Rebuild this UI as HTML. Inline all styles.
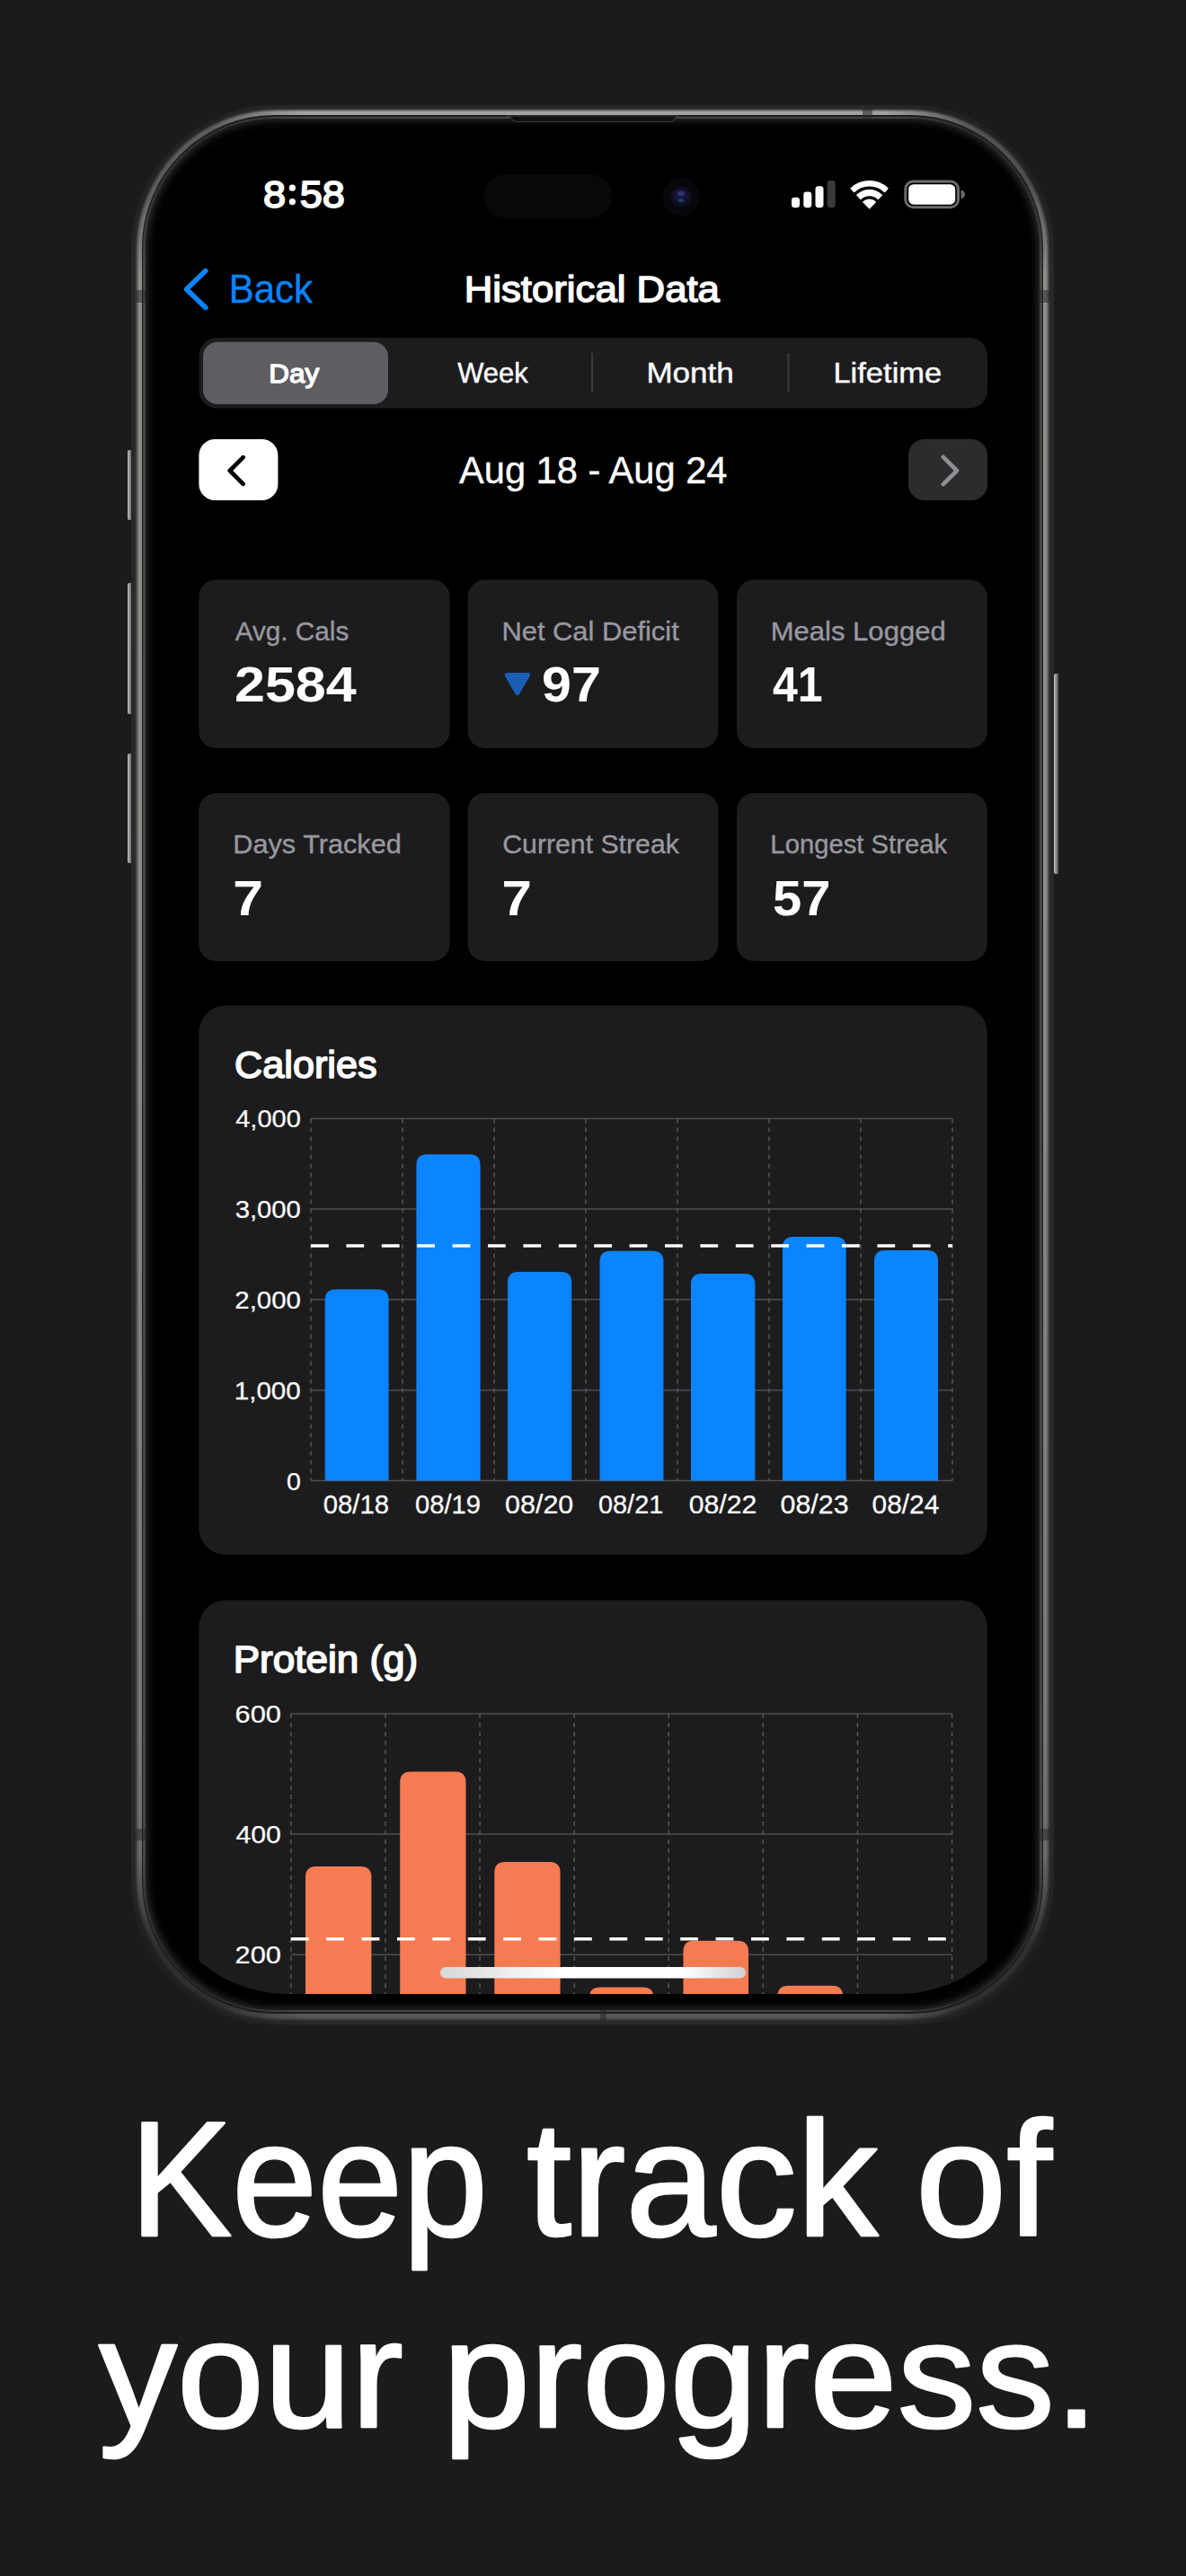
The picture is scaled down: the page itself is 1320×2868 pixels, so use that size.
<!DOCTYPE html>
<html><head><meta charset="utf-8">
<style>
html,body{margin:0;padding:0;width:1320px;height:2868px;overflow:hidden;background:#1b1b1b;}
.abs{position:absolute;}
.btn{position:absolute;width:5.5px;background:linear-gradient(90deg,#bdbdb9 0%,#9a9a96 40%,#4a4a4a 100%);border-radius:2px 0 0 2px;}
svg text{font-family:"Liberation Sans",sans-serif;}
</style></head><body>
<div class="btn" style="left:141.8px;top:501px;height:78px;"></div>
<div class="btn" style="left:141.8px;top:649px;height:146px;"></div>
<div class="btn" style="left:141.8px;top:839px;height:122px;"></div>
<div class="btn" style="left:1172.8px;top:750px;height:223px;"></div>
<div class="abs" style="left:146.2px;top:116.5px;width:1026.8px;height:2137px;border-radius:160px;background:#272929;overflow:hidden;">
<div class="abs" style="left:5.00px;top:5.00px;width:1016.80px;height:2127.00px;border-radius:155.00px;background:#3f403f;filter:blur(0.8px);"></div>
<div class="abs" style="left:6.60px;top:6.60px;width:1013.60px;height:2123.80px;border-radius:153.40px;background:linear-gradient(180deg,#a4a4a0 0%,#8e8e8b 8%,#8a8a88 45%,#78787a 85%,#5a5a5a 100%);filter:blur(1.1px);"></div>
<div class="abs" style="left:11.90px;top:11.90px;width:1003.00px;height:2113.20px;border-radius:148.10px;background:#1c1d1d;filter:blur(0.4px);"></div>
<div class="abs" style="left:13.20px;top:13.20px;width:1000.40px;height:2110.60px;border-radius:146.80px;background:#454545;filter:blur(0.4px);"></div>
<div class="abs" style="left:0.00px;top:0.00px;width:260px;height:260px;background:radial-gradient(circle at 0 0, rgba(27,27,27,0.5) 0px, rgba(27,27,27,0.5) 92px, rgba(27,27,27,0) 190px);"></div>
<div class="abs" style="left:766.80px;top:0.00px;width:260px;height:260px;background:radial-gradient(circle at 100% 0, rgba(27,27,27,0.58) 0px, rgba(27,27,27,0.58) 92px, rgba(27,27,27,0) 190px);"></div>
<div class="abs" style="left:0.00px;top:1877.00px;width:260px;height:260px;background:radial-gradient(circle at 0 100%, rgba(27,27,27,0.7) 0px, rgba(27,27,27,0.7) 92px, rgba(27,27,27,0) 190px);"></div>
<div class="abs" style="left:766.80px;top:1877.00px;width:260px;height:260px;background:radial-gradient(circle at 100% 100%, rgba(27,27,27,0.7) 0px, rgba(27,27,27,0.7) 92px, rgba(27,27,27,0) 190px);"></div>
<div class="abs" style="left:0.00px;top:206.50px;width:17px;height:14px;background:rgba(40,40,40,0.55);filter:blur(0.6px);"></div>
<div class="abs" style="left:1009.80px;top:206.50px;width:17px;height:14px;background:rgba(40,40,40,0.55);filter:blur(0.6px);"></div>
<div class="abs" style="left:0.00px;top:1919.50px;width:17px;height:13px;background:rgba(40,40,40,0.55);filter:blur(0.6px);"></div>
<div class="abs" style="left:1009.80px;top:1919.50px;width:17px;height:13px;background:rgba(40,40,40,0.55);filter:blur(0.6px);"></div>
<div class="abs" style="left:813.80px;top:0.00px;width:11px;height:17px;background:rgba(40,40,40,0.55);filter:blur(0.6px);"></div>
<div class="abs" style="left:521.80px;top:2120.00px;width:7px;height:17px;background:rgba(40,40,40,0.55);filter:blur(0.6px);"></div>
<div class="abs" style="left:15.80px;top:15.80px;width:995.20px;height:2105.40px;border-radius:144.20px;background:#000;box-shadow:inset 0 0 10px 2px rgba(62,62,62,0.75);"></div>
</div>
<svg class="abs" style="left:0;top:0" width="1320" height="2868" viewBox="0 0 1320 2868">
<defs>
<clipPath id="scr"><rect x="170" y="135" width="980" height="2085" rx="150"/></clipPath>
<linearGradient id="hi" x1="0" x2="1" y1="0" y2="0">
<stop offset="0" stop-color="#d8d8d8"/><stop offset="0.4" stop-color="#ffffff"/><stop offset="0.8" stop-color="#ffffff"/><stop offset="1" stop-color="#d0d0d0"/>
</linearGradient>
</defs>
<circle cx="325.4" cy="209.2" r="3.6" fill="#fff"/><circle cx="325.4" cy="224.6" r="3.6" fill="#fff"/>
<path d="M564 130 L566.5 130 Q568.5 130 569.8 132.6 Q571.2 135.4 574 135.4 L746 135.4 Q748.8 135.4 750.2 132.6 Q751.5 130 753.5 130 L756 130 L756 129 L564 129 Z" fill="#0f0f0f" stroke="#404040" stroke-width="1"/>
<rect x="538" y="194" width="143.00" height="49.00" rx="24.5" fill="#080808" />
<circle cx="758" cy="219" r="21" fill="#07070b"/>
<circle cx="758" cy="219" r="11.5" fill="#0e0e22"/>
<circle cx="758" cy="219" r="8" fill="#15153a"/>
<ellipse cx="758" cy="215.5" rx="4" ry="3" fill="#3a3a78" opacity="0.8"/>
<ellipse cx="758" cy="223" rx="3" ry="2" fill="#1f5a4a" opacity="0.7"/>
<rect x="881" y="219.7" width="9.00" height="11.50" rx="3.4" fill="#ffffff" />
<rect x="894.3" y="213.6" width="9.00" height="17.60" rx="3.4" fill="#ffffff" />
<rect x="907.5" y="207.3" width="9.00" height="23.90" rx="3.4" fill="#ffffff" />
<rect x="920.7" y="201" width="9.00" height="30.20" rx="3.4" fill="#3a3a3c" />
<path d="M961.07 224.84 A9.4 9.4 0 0 1 974.13 224.84 L967.60 231.60 Z" fill="#fff" stroke="#fff" stroke-width="1.6" stroke-linejoin="round"/>
<path d="M953.97 217.24 A19.8 19.8 0 0 1 981.23 217.24 L977.37 221.30 A14.2 14.2 0 0 0 957.83 221.30 Z" fill="#fff" stroke="#fff" stroke-width="1.6" stroke-linejoin="round"/>
<path d="M947.28 209.81 A29.8 29.8 0 0 1 987.92 209.81 L984.58 213.39 A24.9 24.9 0 0 0 950.62 213.39 Z" fill="#fff" stroke="#fff" stroke-width="1.6" stroke-linejoin="round"/>
<rect x="1007.8" y="202.1" width="58.70" height="28.70" rx="8.5" fill="none" stroke="#6b6b6b" stroke-width="3"/>
<rect x="1011.2" y="205.2" width="52.00" height="22.50" rx="5.5" fill="#ffffff" />
<path d="M1069.5 211.5 Q1074 212.5 1074 216.3 Q1074 220.2 1069.5 221.2 Z" fill="#6b6b6b"/>
<path d="M228.8 301.6 L207.6 322 L228.8 342.4" fill="none" stroke="#0a84ff" stroke-width="5.6" stroke-linecap="round" stroke-linejoin="round"/>
<rect x="221.6" y="376" width="877.40" height="78.60" rx="20" fill="#1c1c1f" />
<rect x="226" y="380.7" width="206.00" height="69.30" rx="16" fill="#5d5d62" />
<rect x="658" y="393" width="2" height="44" fill="#3a3a3d"/>
<rect x="876.5" y="393" width="2" height="44" fill="#3a3a3d"/>
<rect x="221.4" y="488.9" width="88.00" height="68.10" rx="18" fill="#ffffff" />
<path d="M270.6 509.2 L255.8 524 L270.6 538.8" fill="none" stroke="#000" stroke-width="4.7" stroke-linecap="round" stroke-linejoin="round"/>
<rect x="1011" y="489" width="88.00" height="68.00" rx="18" fill="#2c2c2e" />
<path d="M1049.8 508.8 L1065 524 L1049.8 539.2" fill="none" stroke="#8e8e93" stroke-width="4.6" stroke-linecap="round" stroke-linejoin="round"/>
<rect x="221.3" y="645.6" width="279.30" height="187.40" rx="19" fill="#1c1c1e" />
<rect x="520.6" y="645.6" width="278.80" height="187.40" rx="19" fill="#1c1c1e" />
<rect x="820" y="645.6" width="278.70" height="187.40" rx="19" fill="#1c1c1e" />
<rect x="221.3" y="883" width="279.30" height="187.00" rx="19" fill="#1c1c1e" />
<rect x="520.6" y="883" width="278.80" height="187.00" rx="19" fill="#1c1c1e" />
<rect x="820" y="883" width="278.70" height="187.00" rx="19" fill="#1c1c1e" />
<path d="M564.2 751.6 L587.5 751.6 L575.85 771.6 Z" fill="#1b5fb4" stroke="#1b5fb4" stroke-width="5" stroke-linejoin="round"/>
<rect x="221.4" y="1119.5" width="877.30" height="611.50" rx="30" fill="#1c1c1e" />
<rect x="346" y="1244.65" width="714" height="1.5" fill="#4f4f52"/>
<rect x="346" y="1345.25" width="714" height="1.5" fill="#4f4f52"/>
<rect x="346" y="1446.05" width="714" height="1.5" fill="#4f4f52"/>
<rect x="346" y="1547.05" width="714" height="1.5" fill="#4f4f52"/>
<rect x="346" y="1647.75" width="714" height="1.5" fill="#4f4f52"/>
<line x1="346.00" y1="1245.4" x2="346.00" y2="1648.5" stroke="#5a5a5e" stroke-width="1.4" stroke-dasharray="5 5"/>
<line x1="448.00" y1="1245.4" x2="448.00" y2="1648.5" stroke="#5a5a5e" stroke-width="1.4" stroke-dasharray="5 5"/>
<line x1="550.00" y1="1245.4" x2="550.00" y2="1648.5" stroke="#5a5a5e" stroke-width="1.4" stroke-dasharray="5 5"/>
<line x1="652.00" y1="1245.4" x2="652.00" y2="1648.5" stroke="#5a5a5e" stroke-width="1.4" stroke-dasharray="5 5"/>
<line x1="754.00" y1="1245.4" x2="754.00" y2="1648.5" stroke="#5a5a5e" stroke-width="1.4" stroke-dasharray="5 5"/>
<line x1="856.00" y1="1245.4" x2="856.00" y2="1648.5" stroke="#5a5a5e" stroke-width="1.4" stroke-dasharray="5 5"/>
<line x1="958.00" y1="1245.4" x2="958.00" y2="1648.5" stroke="#5a5a5e" stroke-width="1.4" stroke-dasharray="5 5"/>
<line x1="1060.00" y1="1245.4" x2="1060.00" y2="1648.5" stroke="#5a5a5e" stroke-width="1.4" stroke-dasharray="5 5"/>
<path d="M361.70 1648.50 L361.70 1447.60 Q361.70 1435.60 373.70 1435.60 L420.60 1435.60 Q432.60 1435.60 432.60 1447.60 L432.60 1648.50 Z" fill="#0a84ff"/>
<path d="M463.40 1648.50 L463.40 1297.30 Q463.40 1285.30 475.40 1285.30 L522.60 1285.30 Q534.60 1285.30 534.60 1297.30 L534.60 1648.50 Z" fill="#0a84ff"/>
<path d="M565.00 1648.50 L565.00 1428.00 Q565.00 1416.00 577.00 1416.00 L624.20 1416.00 Q636.20 1416.00 636.20 1428.00 L636.20 1648.50 Z" fill="#0a84ff"/>
<path d="M667.50 1648.50 L667.50 1404.80 Q667.50 1392.80 679.50 1392.80 L726.40 1392.80 Q738.40 1392.80 738.40 1404.80 L738.40 1648.50 Z" fill="#0a84ff"/>
<path d="M769.00 1648.50 L769.00 1430.00 Q769.00 1418.00 781.00 1418.00 L828.40 1418.00 Q840.40 1418.00 840.40 1430.00 L840.40 1648.50 Z" fill="#0a84ff"/>
<path d="M871.00 1648.50 L871.00 1389.00 Q871.00 1377.00 883.00 1377.00 L929.70 1377.00 Q941.70 1377.00 941.70 1389.00 L941.70 1648.50 Z" fill="#0a84ff"/>
<path d="M973.00 1648.50 L973.00 1404.00 Q973.00 1392.00 985.00 1392.00 L1032.00 1392.00 Q1044.00 1392.00 1044.00 1404.00 L1044.00 1648.50 Z" fill="#0a84ff"/>
<line x1="346" y1="1387" x2="1060" y2="1387" stroke="#fff" stroke-width="3.4" stroke-dasharray="19.8 19.6"/>
<g clip-path="url(#scr)">
<rect x="221.4" y="1781.5" width="877.30" height="618.50" rx="30" fill="#1c1c1e" />
<rect x="323.8" y="1907.25" width="735.8" height="1.5" fill="#4f4f52"/>
<rect x="323.8" y="2041.25" width="735.8" height="1.5" fill="#4f4f52"/>
<rect x="323.8" y="2175.45" width="735.8" height="1.5" fill="#4f4f52"/>
<line x1="323.80" y1="1908" x2="323.80" y2="2300" stroke="#5a5a5e" stroke-width="1.4" stroke-dasharray="5 5"/>
<line x1="428.91" y1="1908" x2="428.91" y2="2300" stroke="#5a5a5e" stroke-width="1.4" stroke-dasharray="5 5"/>
<line x1="534.02" y1="1908" x2="534.02" y2="2300" stroke="#5a5a5e" stroke-width="1.4" stroke-dasharray="5 5"/>
<line x1="639.13" y1="1908" x2="639.13" y2="2300" stroke="#5a5a5e" stroke-width="1.4" stroke-dasharray="5 5"/>
<line x1="744.24" y1="1908" x2="744.24" y2="2300" stroke="#5a5a5e" stroke-width="1.4" stroke-dasharray="5 5"/>
<line x1="849.35" y1="1908" x2="849.35" y2="2300" stroke="#5a5a5e" stroke-width="1.4" stroke-dasharray="5 5"/>
<line x1="954.46" y1="1908" x2="954.46" y2="2300" stroke="#5a5a5e" stroke-width="1.4" stroke-dasharray="5 5"/>
<line x1="1059.57" y1="1908" x2="1059.57" y2="2300" stroke="#5a5a5e" stroke-width="1.4" stroke-dasharray="5 5"/>
<path d="M340.00 2300.00 L340.00 2090.00 Q340.00 2078.00 352.00 2078.00 L401.40 2078.00 Q413.40 2078.00 413.40 2090.00 L413.40 2300.00 Z" fill="#f77b52"/>
<path d="M445.20 2300.00 L445.20 1984.50 Q445.20 1972.50 457.20 1972.50 L506.50 1972.50 Q518.50 1972.50 518.50 1984.50 L518.50 2300.00 Z" fill="#f77b52"/>
<path d="M550.30 2300.00 L550.30 2085.00 Q550.30 2073.00 562.30 2073.00 L611.60 2073.00 Q623.60 2073.00 623.60 2085.00 L623.60 2300.00 Z" fill="#f77b52"/>
<path d="M655.80 2300.00 L655.80 2224.60 Q655.80 2212.60 667.80 2212.60 L715.60 2212.60 Q727.60 2212.60 727.60 2224.60 L727.60 2300.00 Z" fill="#f77b52"/>
<path d="M760.50 2300.00 L760.50 2172.70 Q760.50 2160.70 772.50 2160.70 L821.00 2160.70 Q833.00 2160.70 833.00 2172.70 L833.00 2300.00 Z" fill="#f77b52"/>
<path d="M865.30 2300.00 L865.30 2222.70 Q865.30 2210.70 877.30 2210.70 L926.20 2210.70 Q938.20 2210.70 938.20 2222.70 L938.20 2300.00 Z" fill="#f77b52"/>
<line x1="323.8" y1="2158.8" x2="1059.6" y2="2158.8" stroke="#fff" stroke-width="3.4" stroke-dasharray="19.8 19.6"/>
</g>
<rect x="490" y="2190" width="340" height="12.5" rx="6.25" fill="url(#hi)"/>
<text transform="translate(293.10 231.08) scale(1.0819 1)" font-size="41.69" font-weight="400" fill="#ffffff" stroke="#ffffff" stroke-width="1.8" stroke-linejoin="round">8</text>
<text transform="translate(333.70 231.08) scale(1.0782 1)" font-size="41.69" font-weight="400" fill="#ffffff" stroke="#ffffff" stroke-width="1.8" stroke-linejoin="round">58</text>
<text transform="translate(254.85 337.00) scale(0.9630 1)" font-size="43.48" font-weight="400" fill="#0a84ff" stroke="#0a84ff" stroke-width="0.4" stroke-linejoin="round">Back</text>
<text transform="translate(516.65 335.90) scale(1.0702 1)" font-size="40.87" font-weight="400" fill="#ffffff" stroke="#ffffff" stroke-width="1.5" stroke-linejoin="round">Historical Data</text>
<text transform="translate(299.18 426.00) scale(1.0750 1)" font-size="29.28" font-weight="400" fill="#ffffff" stroke="#ffffff" stroke-width="1.4" stroke-linejoin="round">Day</text>
<text transform="translate(509.20 426.00) scale(1.0072 1)" font-size="30.72" font-weight="400" fill="#ffffff" stroke="#ffffff" stroke-width="0.4" stroke-linejoin="round">Week</text>
<text transform="translate(719.39 426.00) scale(1.1416 1)" font-size="30.72" font-weight="400" fill="#ffffff" stroke="#ffffff" stroke-width="0.4" stroke-linejoin="round">Month</text>
<text transform="translate(927.44 426.00) scale(1.1228 1)" font-size="30.72" font-weight="400" fill="#ffffff" stroke="#ffffff" stroke-width="0.4" stroke-linejoin="round">Lifetime</text>
<text transform="translate(511.00 538.20) scale(0.9802 1)" font-size="42.46" font-weight="400" fill="#ffffff" stroke="#ffffff" stroke-width="0.4" stroke-linejoin="round">Aug 18 - Aug 24</text>
<text transform="translate(261.70 712.80) scale(0.9810 1)" font-size="30.29" font-weight="400" fill="#98989f" stroke="#98989f" stroke-width="0.4" stroke-linejoin="round">Avg. Cals</text>
<text transform="translate(558.43 712.80) scale(1.0198 1)" font-size="30.29" font-weight="400" fill="#98989f" stroke="#98989f" stroke-width="0.4" stroke-linejoin="round">Net Cal Deficit</text>
<text transform="translate(857.72 712.80) scale(1.0248 1)" font-size="30.29" font-weight="400" fill="#98989f" stroke="#98989f" stroke-width="0.4" stroke-linejoin="round">Meals Logged</text>
<text transform="translate(259.35 950.20) scale(1.0120 1)" font-size="30.29" font-weight="400" fill="#98989f" stroke="#98989f" stroke-width="0.4" stroke-linejoin="round">Days Tracked</text>
<text transform="translate(559.29 950.20) scale(0.9981 1)" font-size="30.29" font-weight="400" fill="#98989f" stroke="#98989f" stroke-width="0.4" stroke-linejoin="round">Current Streak</text>
<text transform="translate(857.36 950.20) scale(0.9661 1)" font-size="30.29" font-weight="400" fill="#98989f" stroke="#98989f" stroke-width="0.4" stroke-linejoin="round">Longest Streak</text>
<text transform="translate(260.97 781.35) scale(1.1049 1)" font-size="55.21" font-weight="700" fill="#ffffff">2584</text>
<text transform="translate(603.03 781.35) scale(1.0711 1)" font-size="55.21" font-weight="700" fill="#ffffff">97</text>
<text transform="translate(860.00 781.35) scale(0.9073 1)" font-size="55.21" font-weight="700" fill="#ffffff">41</text>
<text transform="translate(259.37 1018.75) scale(1.0983 1)" font-size="55.21" font-weight="700" fill="#ffffff">7</text>
<text transform="translate(558.60 1018.75) scale(1.0867 1)" font-size="55.21" font-weight="700" fill="#ffffff">7</text>
<text transform="translate(860.06 1018.75) scale(1.0502 1)" font-size="55.21" font-weight="700" fill="#ffffff">57</text>
<text transform="translate(261.04 1199.50) scale(1.0288 1)" font-size="42.03" font-weight="400" fill="#ffffff" stroke="#ffffff" stroke-width="1.6" stroke-linejoin="round">Calories</text>
<text transform="translate(259.68 1861.70) scale(1.0551 1)" font-size="41.74" font-weight="400" fill="#ffffff" stroke="#ffffff" stroke-width="1.6" stroke-linejoin="round">Protein (g)</text>
<text transform="translate(262.25 1255.24) scale(1.0168 1)" font-size="28.52" font-weight="400" fill="#ffffff" stroke="#ffffff" stroke-width="0.25" stroke-linejoin="round">4,000</text>
<text transform="translate(261.66 1355.84) scale(1.0252 1)" font-size="28.52" font-weight="400" fill="#ffffff" stroke="#ffffff" stroke-width="0.25" stroke-linejoin="round">3,000</text>
<text transform="translate(261.36 1456.64) scale(1.0294 1)" font-size="28.52" font-weight="400" fill="#ffffff" stroke="#ffffff" stroke-width="0.25" stroke-linejoin="round">2,000</text>
<text transform="translate(260.75 1557.64) scale(1.0380 1)" font-size="28.52" font-weight="400" fill="#ffffff" stroke="#ffffff" stroke-width="0.25" stroke-linejoin="round">1,000</text>
<text transform="translate(319.04 1658.64) scale(1.0000 1)" font-size="28.52" font-weight="400" fill="#ffffff" stroke="#ffffff" stroke-width="0.25" stroke-linejoin="round">0</text>
<text transform="translate(359.75 1684.69) scale(1.0179 1)" font-size="28.80" font-weight="400" fill="#ffffff" stroke="#ffffff" stroke-width="0.25" stroke-linejoin="round">08/18</text>
<text transform="translate(461.96 1684.69) scale(1.0122 1)" font-size="28.80" font-weight="400" fill="#ffffff" stroke="#ffffff" stroke-width="0.25" stroke-linejoin="round">08/19</text>
<text transform="translate(562.11 1684.69) scale(1.0566 1)" font-size="28.80" font-weight="400" fill="#ffffff" stroke="#ffffff" stroke-width="0.25" stroke-linejoin="round">08/20</text>
<text transform="translate(665.97 1684.69) scale(1.0035 1)" font-size="28.80" font-weight="400" fill="#ffffff" stroke="#ffffff" stroke-width="0.25" stroke-linejoin="round">08/21</text>
<text transform="translate(766.71 1684.69) scale(1.0509 1)" font-size="28.80" font-weight="400" fill="#ffffff" stroke="#ffffff" stroke-width="0.25" stroke-linejoin="round">08/22</text>
<text transform="translate(868.61 1684.69) scale(1.0538 1)" font-size="28.80" font-weight="400" fill="#ffffff" stroke="#ffffff" stroke-width="0.25" stroke-linejoin="round">08/23</text>
<text transform="translate(970.53 1684.69) scale(1.0380 1)" font-size="28.80" font-weight="400" fill="#ffffff" stroke="#ffffff" stroke-width="0.25" stroke-linejoin="round">08/24</text>
<text transform="translate(261.59 1917.64) scale(1.0796 1)" font-size="28.52" font-weight="400" fill="#ffffff" stroke="#ffffff" stroke-width="0.25" stroke-linejoin="round">600</text>
<text transform="translate(262.52 2051.84) scale(1.0595 1)" font-size="28.52" font-weight="400" fill="#ffffff" stroke="#ffffff" stroke-width="0.25" stroke-linejoin="round">400</text>
<text transform="translate(261.59 2186.04) scale(1.0796 1)" font-size="28.52" font-weight="400" fill="#ffffff" stroke="#ffffff" stroke-width="0.25" stroke-linejoin="round">200</text>
<text transform="translate(144.45 2488.80) scale(0.9354 1)" font-size="182.46" font-weight="400" fill="#ffffff" stroke="#ffffff" stroke-width="2.6" stroke-linejoin="round">Keep</text>
<text transform="translate(586.09 2488.80) scale(0.9893 1)" font-size="182.46" font-weight="400" fill="#ffffff" stroke="#ffffff" stroke-width="2.6" stroke-linejoin="round">track</text>
<text transform="translate(1019.02 2488.80) scale(0.9975 1)" font-size="182.46" font-weight="400" fill="#ffffff" stroke="#ffffff" stroke-width="2.6" stroke-linejoin="round">of</text>
<text transform="translate(110.00 2701.60) scale(1.0258 1)" font-size="169.81" font-weight="400" fill="#ffffff" stroke="#ffffff" stroke-width="2.6" stroke-linejoin="round">your</text>
<text transform="translate(492.70 2701.60) scale(1.0308 1)" font-size="169.81" font-weight="400" fill="#ffffff" stroke="#ffffff" stroke-width="2.6" stroke-linejoin="round">progress.</text>
</svg>
</body></html>
